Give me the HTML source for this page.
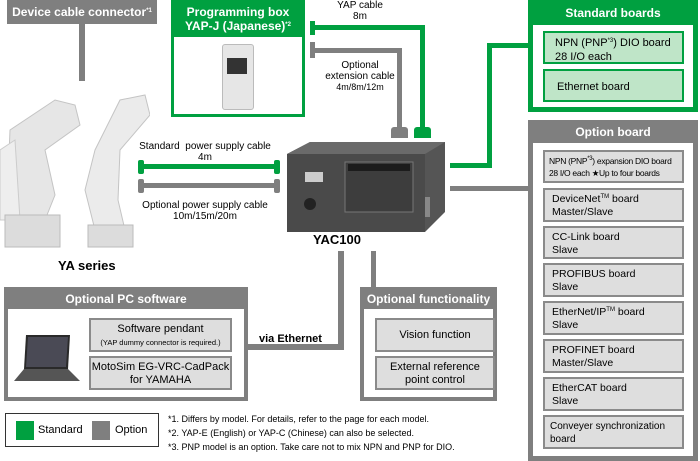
<!DOCTYPE html>
<html><head><meta charset="utf-8"><style>
body{margin:0;width:700px;height:461px;background:#fff;position:relative;overflow:hidden;font-family:"Liberation Sans",Arial,sans-serif;}
div{position:absolute;box-sizing:border-box;}
sup{line-height:0;font-size:6px;vertical-align:4px;}
.g{background:#00a040;}
.r{background:#7f7f7f;}
.hd{color:#fff;font-weight:bold;font-size:12px;text-align:center;}
.gb{background:#bfe5c8;border:2px solid #00a040;font-size:11px;padding:3px 0 0 10px;line-height:14px;white-space:nowrap;}
.ob{background:#dedede;border:2px solid #8a8a8a;font-size:10.5px;padding:3px 0 0 7px;line-height:13px;white-space:nowrap;}
.t{font-size:9.5px;text-align:center;line-height:11px;}
</style></head><body>
<!-- Device cable connector -->
<div class="r hd" style="left:7px;top:0;width:150px;height:24px;padding-top:5px;">Device cable connector<sup>*1</sup></div>
<div class="r" style="left:79px;top:24px;width:6px;height:57px;"></div>
<!-- robots -->
<svg style="position:absolute;left:0;top:80px" width="150" height="170">
<path d="M10 50 L55 20 L75 25 L80 45 L45 70 L55 115 L45 140 L15 140 L8 100 Z" fill="#e6e6e6" stroke="#c4c4c4"/>
<path d="M0 70 L15 60 L20 140 L0 140 Z" fill="#eee" stroke="#ccc"/>
<rect x="5" y="135" width="55" height="32" fill="#dcdcdc" stroke="#bbb"/>
<path d="M95 70 L120 20 L145 15 L150 35 L120 70 L118 120 L125 150 L95 150 L85 110 Z" fill="#ebebeb" stroke="#c4c4c4"/>
<rect x="88" y="145" width="45" height="22" fill="#dcdcdc" stroke="#bbb"/>
</svg>
<div style="left:58px;top:258px;font-weight:bold;font-size:13px;">YA series</div>
<!-- Programming box -->
<div class="g hd" style="left:171px;top:0;width:134px;height:117px;padding-top:5px;line-height:14px;">Programming box<br>YAP-J (Japanese)<sup>*2</sup></div>
<div style="left:174px;top:37px;width:128px;height:77px;background:#fff;"></div>
<div style="left:222px;top:44px;width:32px;height:66px;background:#e6e6e6;border:1px solid #bbb;border-radius:3px;"></div>
<div style="left:227px;top:58px;width:20px;height:16px;background:#333;"></div>
<!-- YAP cables -->
<div class="g" style="left:310px;top:21px;width:5px;height:14px;"></div>
<div class="g" style="left:310px;top:25px;width:115px;height:5px;"></div>
<div class="g" style="left:420px;top:25px;width:5px;height:105px;"></div>
<div class="g" style="left:414px;top:127px;width:17px;height:11px;border-radius:3px 3px 0 0;"></div>
<div class="r" style="left:310px;top:42px;width:5px;height:16px;"></div>
<div class="r" style="left:310px;top:48px;width:92px;height:5px;"></div>
<div class="r" style="left:397px;top:48px;width:5px;height:82px;"></div>
<div class="r" style="left:391px;top:127px;width:17px;height:11px;border-radius:3px 3px 0 0;"></div>
<div class="t" style="left:320px;top:0;width:80px;font-size:10px;">YAP cable<br>8m</div>
<div class="t" style="left:315px;top:60px;width:90px;font-size:10px;line-height:11px;">Optional<br>extension cable<br><span style="font-size:9px">4m/8m/12m</span></div>
<!-- power cables -->
<div class="t" style="left:130px;top:141px;width:150px;font-size:10px;">Standard&nbsp; power supply cable<br>4m</div>
<div class="g" style="left:138px;top:160px;width:6px;height:14px;border-radius:2px;"></div>
<div class="g" style="left:138px;top:164px;width:142px;height:5px;"></div>
<div class="g" style="left:274px;top:160px;width:6px;height:14px;border-radius:2px;"></div>
<div class="r" style="left:138px;top:179px;width:6px;height:14px;border-radius:2px;"></div>
<div class="r" style="left:138px;top:183px;width:142px;height:5px;"></div>
<div class="r" style="left:274px;top:179px;width:6px;height:14px;border-radius:2px;"></div>
<div class="t" style="left:130px;top:200px;width:150px;font-size:10px;">Optional power supply cable<br>10m/15m/20m</div>
<!-- controller -->
<svg style="position:absolute;left:285px;top:142px" width="162" height="92">
<polygon points="2,12 25,0 160,0 160,70 140,90 2,90" fill="#555"/>
<polygon points="2,12 25,0 160,0 140,12" fill="#6a6a6a"/>
<rect x="2" y="12" width="138" height="78" fill="#4a4a4a"/>
<rect x="60" y="20" width="68" height="50" fill="#3d3d3d" stroke="#777"/>
<rect x="63" y="22" width="62" height="7" fill="#1c1c1c"/>
<rect x="20" y="30" width="18" height="10" fill="#ccc"/>
<circle cx="25" cy="62" r="6" fill="#222"/>
<rect x="140" y="55" width="5" height="20" fill="#888"/>
</svg>
<div style="left:313px;top:232px;font-weight:bold;font-size:13px;">YAC100</div>
<!-- to standard boards -->
<div class="g" style="left:450px;top:163px;width:42px;height:5px;"></div>
<div class="g" style="left:487px;top:43px;width:5px;height:125px;"></div>
<div class="g" style="left:487px;top:43px;width:41px;height:5px;"></div>
<div class="r" style="left:450px;top:186px;width:78px;height:5px;"></div>
<!-- Standard boards -->
<div class="g hd" style="left:528px;top:0;width:170px;height:112px;padding-top:6px;">Standard boards</div>
<div style="left:533px;top:25px;width:160px;height:82px;background:#fff;"></div>
<div class="gb" style="left:543px;top:31px;width:141px;height:33px;">NPN (PNP<sup>*3</sup>) DIO board<br>28 I/O each</div>
<div class="gb" style="left:543px;top:69px;width:141px;height:33px;padding-top:9px;padding-left:12px;">Ethernet board</div>
<!-- Option board -->
<div class="r hd" style="left:528px;top:120px;width:170px;height:341px;padding-top:5px;">Option board</div>
<div style="left:533px;top:143px;width:160px;height:313px;background:#fff;"></div>
<div class="ob" style="left:543px;top:150px;width:141px;height:33px;font-size:8.5px;padding-left:4px;padding-top:3px;line-height:12px;letter-spacing:-0.3px;">NPN (PNP<sup>*3</sup>) expansion DIO board<br>28 I/O each ★Up to four boards</div>
<div class="ob" style="left:543px;top:188px;width:141px;height:34px;">DeviceNet<sup>TM</sup> board<br>Master/Slave</div>
<div class="ob" style="left:543px;top:226px;width:141px;height:33px;">CC-Link board<br>Slave</div>
<div class="ob" style="left:543px;top:263px;width:141px;height:34px;">PROFIBUS board<br>Slave</div>
<div class="ob" style="left:543px;top:301px;width:141px;height:34px;">EtherNet/IP<sup>TM</sup> board<br>Slave</div>
<div class="ob" style="left:543px;top:339px;width:141px;height:34px;">PROFINET board<br>Master/Slave</div>
<div class="ob" style="left:543px;top:377px;width:141px;height:34px;">EtherCAT board<br>Slave</div>
<div class="ob" style="left:543px;top:415px;width:141px;height:34px;font-size:10px;padding-left:5px;">Conveyer synchronization<br>board</div>
<!-- lines down from controller -->
<div class="r" style="left:338px;top:251px;width:6px;height:99px;"></div>
<div class="r" style="left:246px;top:344px;width:98px;height:6px;"></div>
<div class="r" style="left:371px;top:251px;width:5px;height:40px;"></div>
<div style="left:259px;top:333px;font-weight:bold;font-size:11px;">via Ethernet</div>
<!-- PC software -->
<div class="r hd" style="left:4px;top:287px;width:244px;height:114px;padding-top:5px;">Optional PC software</div>
<div style="left:8px;top:309px;width:236px;height:88px;background:#fff;"></div>
<svg style="position:absolute;left:14px;top:333px" width="70" height="55">
<polygon points="12,2 56,2 54,36 10,36" fill="#2a2a2a"/>
<polygon points="14,4 54,4 52,34 12,34" fill="#4a4a55"/>
<polygon points="10,36 54,36 66,48 0,48" fill="#555"/>
</svg>
<div class="ob" style="left:89px;top:318px;width:143px;height:34px;text-align:center;padding:3px 0 0 0;font-size:11px;">Software pendant<br><span style="font-size:7.5px">(YAP dummy connector is required.)</span></div>
<div class="ob" style="left:89px;top:356px;width:143px;height:34px;text-align:center;padding:3px 0 0 0;font-size:11px;">MotoSim EG-VRC-CadPack<br>for YAMAHA</div>
<!-- Optional functionality -->
<div class="r hd" style="left:360px;top:287px;width:137px;height:114px;padding-top:5px;">Optional functionality</div>
<div style="left:364px;top:309px;width:129px;height:88px;background:#fff;"></div>
<div class="ob" style="left:375px;top:318px;width:120px;height:34px;text-align:center;padding:9px 0 0 0;font-size:11px;">Vision function</div>
<div class="ob" style="left:375px;top:356px;width:120px;height:34px;text-align:center;padding:3px 0 0 0;font-size:11px;">External reference<br>point control</div>
<!-- legend -->
<div style="left:5px;top:413px;width:154px;height:34px;border:1px solid #333;"></div>
<div class="g" style="left:16px;top:421px;width:18px;height:19px;"></div>
<div style="left:38px;top:424px;font-size:11px;">Standard</div>
<div class="r" style="left:92px;top:421px;width:18px;height:19px;"></div>
<div style="left:115px;top:424px;font-size:11px;">Option</div>
<div style="left:168px;top:412px;font-size:9px;line-height:14px;">*1. Differs by model. For details, refer to the page for each model.<br>*2. YAP-E (English) or YAP-C (Chinese) can also be selected.<br>*3. PNP model is an option. Take care not to mix NPN and PNP for DIO.</div>
</body></html>
